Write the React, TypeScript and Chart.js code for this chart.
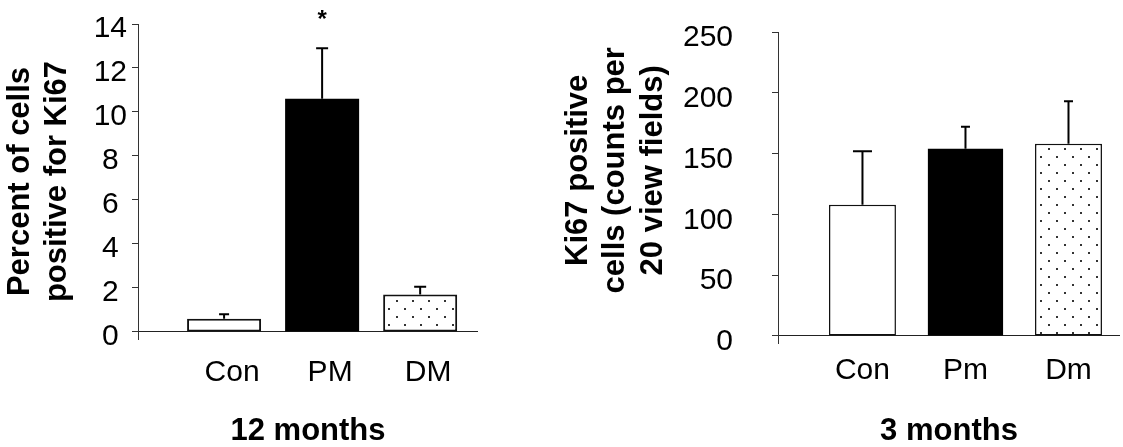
import React, { useEffect, useRef } from "react";
import { Chart, registerables } from "chart.js";

Chart.register(...registerables);

// ---- Left panel (12 months) ----
const leftCategories = ["Con", "PM", "DM"];
const leftValues = [0.6, 10.6, 1.7];
const leftErrors = [0.2, 2.3, 0.35];
const leftSignificance = ["", "*", ""];
const leftTicks = [0, 2, 4, 6, 8, 10, 12, 14];
const leftYTitle = ["Percent of cells", "positive for Ki67"];
const leftXTitle = "12 months";

// ---- Right panel (3 months) ----
const rightCategories = ["Con", "Pm", "Dm"];
const rightValues = [108, 154, 158];
const rightErrors = [44, 18, 35];
const rightSignificance = ["", "", ""];
const rightTicks = [0, 50, 100, 150, 200, 250];
const rightYTitle = ["Ki67 positive", "cells (counts per", "20 view fields)"];
const rightXTitle = "3 months";

const FONT = "'Liberation Sans', Arial, Helvetica, sans-serif";
const NBSP = "\u00a0";

function makeDotPattern(ctx: CanvasRenderingContext2D): CanvasPattern | string {
  const c = document.createElement("canvas");
  c.width = 16;
  c.height = 16;
  const g = c.getContext("2d");
  if (!g) return "#fff";
  g.fillStyle = "#fff";
  g.fillRect(0, 0, 16, 16);
  g.fillStyle = "#333";
  g.fillRect(4, 4, 2, 2);
  g.fillRect(12, 12, 2, 2);
  return ctx.createPattern(c, "repeat") || "#fff";
}

const errorBarPlugin = {
  id: "errorBars",
  afterDatasetsDraw(chart: any) {
    const ctx = chart.ctx;
    const yScale = chart.scales.y;
    const cfg = chart.options.plugins.errorBars || {};
    const values: number[] = cfg.values || [];
    const errors: number[] = cfg.errors || [];
    const marks: string[] = cfg.marks || [];
    chart.data.datasets.forEach((ds: any, i: number) => {
      const meta = chart.getDatasetMeta(i);
      const el = meta.data[0];
      if (!el) return;
      const x = el.x;
      const yBar = el.y;
      const yTop = yScale.getPixelForValue(values[i] + errors[i]);
      const cap = ds.errorCap || 10;
      ctx.save();
      ctx.strokeStyle = "#000";
      ctx.lineWidth = ds.errorLineWidth || 2;
      ctx.beginPath();
      ctx.moveTo(x, yBar);
      ctx.lineTo(x, yTop);
      ctx.moveTo(x - cap / 2, yTop);
      ctx.lineTo(x + cap / 2, yTop);
      ctx.stroke();
      if (marks[i]) {
        ctx.fillStyle = "#000";
        ctx.font = `bold 24px ${FONT}`;
        ctx.textAlign = "center";
        ctx.textBaseline = "alphabetic";
        ctx.fillText(marks[i], x, yTop - 21);
      }
      ctx.restore();
    });
  },
};

interface PanelSpec {
  categories: string[];
  values: number[];
  errors: number[];
  marks: string[];
  ticks: number[];
  yTitle: string[];
  xTitle: string;
  yMin: number;
  yMax: number;
  xMin: number;
  xMax: number;
  padding: { left: number; top: number; right: number; bottom: number };
  yWidth: number;
  xHeight: number;
  barPct: number[];
  borderWidths: number[];
  caps: number[];
  errLW: number;
  yCrossAlign: string;
  yTickPadding: number;
  yLabelOffset: number;
  xTickPadding: number;
  xLabelOffset: number;
}

function buildConfig(ctx: CanvasRenderingContext2D, s: PanelSpec): any {
  const fills: any[] = ["#ffffff", "#000000", makeDotPattern(ctx)];
  const datasets = s.categories.map((c, i) => ({
    label: c,
    data: [{ x: i, y: s.values[i] }],
    backgroundColor: fills[i],
    borderColor: "#111",
    borderWidth: s.borderWidths[i],
    borderSkipped: false,
    grouped: false,
    categoryPercentage: 1,
    barPercentage: s.barPct[i],
    errorCap: s.caps[i],
    errorLineWidth: s.errLW,
  }));
  return {
    type: "bar",
    data: { datasets },
    plugins: [errorBarPlugin],
    options: {
      responsive: false,
      animation: false,
      events: [],
      layout: { padding: s.padding },
      plugins: {
        legend: { display: false },
        tooltip: { enabled: false },
        errorBars: { values: s.values, errors: s.errors, marks: s.marks },
      },
      scales: {
        x: {
          type: "linear",
          offset: false,
          min: s.xMin,
          max: s.xMax,
          afterBuildTicks: (scale: any) => {
            scale.ticks = s.categories.map((_, i) => ({ value: i }));
          },
          afterFit: (scale: any) => {
            scale.height = s.xHeight;
            scale.paddingLeft = 0;
            scale.paddingRight = 0;
          },
          grid: { display: false, offset: false },
          border: { display: false },
          ticks: {
            padding: s.xTickPadding,
            labelOffset: s.xLabelOffset,
            color: "#000",
            font: { family: FONT, size: 30 },
            callback: (v: any) => s.categories[Math.round(v)] ?? "",
            maxRotation: 0,
            autoSkip: false,
          },
          title: {
            display: true,
            text: s.xTitle,
            color: "#000",
            padding: 0,
            font: { family: FONT, size: 31, weight: "bold", lineHeight: 1 },
          },
        },
        y: {
          type: "linear",
          min: s.yMin,
          max: s.yMax,
          afterBuildTicks: (scale: any) => {
            scale.ticks = s.ticks.map((v) => ({ value: v }));
          },
          afterFit: (scale: any) => {
            scale.width = s.yWidth;
            scale.paddingTop = 0;
            scale.paddingBottom = 0;
          },
          grid: {
            display: true,
            drawOnChartArea: true,
            color: (c: any) => (c.tick && c.tick.value === 0 ? "#222" : "rgba(0,0,0,0)"),
            tickColor: "#333",
            tickLength: 6,
            lineWidth: 1,
          },
          border: { display: true, color: "#333", width: 1 },
          ticks: {
            color: "#000",
            padding: s.yTickPadding,
            labelOffset: s.yLabelOffset,
            crossAlign: s.yCrossAlign,
            font: { family: FONT, size: 30 },
            autoSkip: false,
          },
          title: {
            display: true,
            text: s.yTitle,
            color: "#000",
            padding: { top: 2, bottom: 0 },
            font: { family: FONT, size: 31, weight: "bold", lineHeight: 1.2 },
          },
        },
      },
    },
  };
}

const leftSpec: PanelSpec = {
  categories: leftCategories,
  values: leftValues,
  errors: leftErrors,
  marks: leftSignificance,
  ticks: leftTicks,
  yTitle: leftYTitle,
  xTitle: leftXTitle,
  yMin: -0.32,
  yMax: 14,
  xMin: -0.878,
  xMax: 2.59,
  padding: { left: 0, top: 24, right: 67, bottom: 0 },
  yWidth: 138,
  xHeight: 108,
  barPct: [0.755, 0.755, 0.755],
  borderWidths: [2, 0, 2],
  caps: [10, 12, 12],
  errLW: 2,
  yCrossAlign: "center",
  yTickPadding: 5,
  yLabelOffset: 5,
  xTickPadding: 8,
  xLabelOffset: 8,
};

// leading no-break spaces lift the centred title a little, as in the source figure
const rightYTitleShifted = rightYTitle.map((t) => NBSP.repeat(4) + t);

const rightSpec: PanelSpec = {
  categories: rightCategories,
  values: rightValues,
  errors: rightErrors,
  marks: rightSignificance,
  ticks: rightTicks,
  yTitle: rightYTitleShifted,
  xTitle: rightXTitle,
  yMin: -5.76,
  yMax: 250,
  xMin: -0.82,
  xMax: 2.5,
  padding: { left: 10, top: 32, right: 3, bottom: 0 },
  yWidth: 220,
  xHeight: 104,
  barPct: [0.65, 0.73, 0.65],
  borderWidths: [1.5, 0, 1.5],
  caps: [19, 9, 9],
  errLW: 2,
  yCrossAlign: "near",
  yTickPadding: 39,
  yLabelOffset: 6,
  xTickPadding: 2,
  xLabelOffset: 0,
};

function Panel({ spec, width, left }: { spec: PanelSpec; width: number; left: number }) {
  const ref = useRef<HTMLCanvasElement | null>(null);
  useEffect(() => {
    const canvas = ref.current;
    if (!canvas) return;
    const ctx = canvas.getContext("2d");
    if (!ctx) return;
    const chart = new Chart(ctx, buildConfig(ctx, spec));
    return () => chart.destroy();
  }, [spec]);
  return (
    <canvas
      ref={ref}
      width={width}
      height={447}
      style={{ position: "absolute", left, top: 0, width, height: 447, display: "block" }}
    />
  );
}

export default function App() {
  return (
    <div
      style={{
        position: "fixed",
        left: 0,
        top: 0,
        width: 1123,
        height: 447,
        background: "#fff",
        overflow: "hidden",
      }}
    >
      <Panel spec={leftSpec} width={545} left={0} />
      <Panel spec={rightSpec} width={575} left={548} />
    </div>
  );
}
